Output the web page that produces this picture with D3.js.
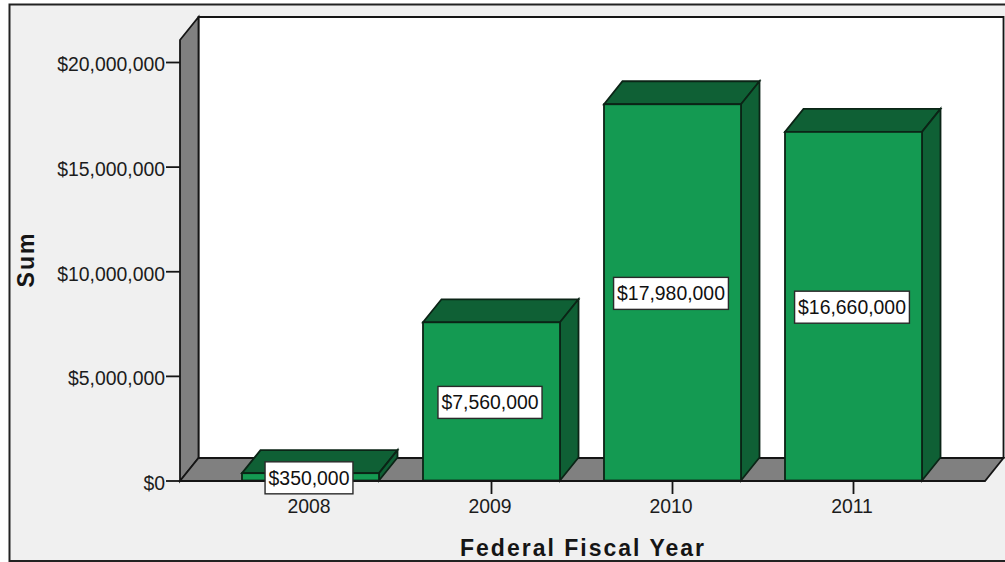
<!DOCTYPE html>
<html><head><meta charset="utf-8">
<script src="https://cdnjs.cloudflare.com/ajax/libs/d3/7.8.5/d3.min.js"></script>
<style>html,body{margin:0;padding:0;background:#fff}svg{display:block;font-family:"Liberation Sans",Arial,sans-serif}</style>
</head><body><svg id="c" width="1005" height="562"></svg>
<script>
const years = ["2008","2009","2010","2011"];
const sums = [350000,7560000,17980000,16660000];
const labels = ["$350,000","$7,560,000","$17,980,000","$16,660,000"];
const yTicks = [0,5000000,10000000,15000000,20000000];

const svg = d3.select("#c");
const x0=180,x1=985,y0=481,wallTop=40,dx=18.5,dy=-23;
const x = d3.scaleBand().domain(years).range([220,944]).paddingInner(.243).paddingOuter(.1215);
const y = d3.scaleLinear().domain([0,20000000]).range([480.5,62]);
const stroke="#151515", barStroke="#0b2416", sw=1.8;
const P = a=>a.map(p=>p.join(",")).join(" ");

svg.append("rect").attr("x",9.5).attr("y",4.5).attr("width",1010).attr("height",556.5)
  .attr("fill","#f0f0f0").attr("stroke","#222").attr("stroke-width",2);

svg.append("polygon").attr("points",P([[x0+dx,wallTop+dy],[x1+dx,wallTop+dy],[x1+dx,y0+dy],[x0+dx,y0+dy]])).attr("fill","#fff").attr("stroke",stroke).attr("stroke-width",sw);
svg.append("polygon").attr("points",P([[x0,wallTop],[x0+dx,wallTop+dy],[x0+dx,y0+dy],[x0,y0]])).attr("fill","#808080").attr("stroke",stroke).attr("stroke-width",sw);
svg.append("polygon").attr("points",P([[x0,y0],[x0+dx,y0+dy],[x1+dx,y0+dy],[x1,y0]])).attr("fill","#808080").attr("stroke",stroke).attr("stroke-width",sw);

// axes
const yAxis = d3.axisLeft(y).tickValues(yTicks).tickSize(14).tickPadding(1).tickFormat(d3.format("$,"));
const ga = svg.append("g").attr("transform",`translate(${x0},0)`).call(yAxis);
ga.select(".domain").remove();
ga.selectAll("line").attr("stroke",stroke).attr("stroke-width",sw);
ga.selectAll("text").attr("fill","#1c1c1c").attr("dy","0.46em").attr("style","font-size:19.4px");
ga.attr("font-family",null);

const xAxis = d3.axisBottom(x).tickSize(13).tickPadding(5);
const gx = svg.append("g").attr("transform",`translate(0,${y0})`).call(xAxis);
gx.select(".domain").remove();
gx.selectAll("line").attr("stroke",stroke).attr("stroke-width",sw);
gx.selectAll("text").attr("fill","#1c1c1c").attr("dx",-1.5).attr("style","font-size:19.4px");
gx.attr("font-family",null);

// bars
const rows = years.map((d,i)=>({year:d,v:sums[i],l:labels[i]}));
const bars = svg.append("g").selectAll("g").data(rows).join("g");
bars.append("polygon").attr("points",d=>{const a=x(d.year),b=a+x.bandwidth(),t=y(d.v);
  return P([[a,t],[a+dx,t+dy],[b+dx,t+dy],[b,t]]);}).attr("fill","#0f6035").attr("stroke",barStroke).attr("stroke-width",sw);
bars.append("polygon").attr("points",d=>{const b=x(d.year)+x.bandwidth(),t=y(d.v);
  return P([[b,t],[b+dx,t+dy],[b+dx,y(0)+dy],[b,y(0)]]);}).attr("fill","#0f6035").attr("stroke",barStroke).attr("stroke-width",sw);
bars.append("rect").attr("x",d=>x(d.year)).attr("y",d=>y(d.v)).attr("width",x.bandwidth()).attr("height",d=>y(0)-y(d.v))
  .attr("fill","#149a52").attr("stroke",barStroke).attr("stroke-width",sw);

// axis baseline on top of the bars
svg.append("line").attr("x1",x0).attr("x2",x1).attr("y1",y0).attr("y2",y0).attr("stroke",stroke).attr("stroke-width",sw);

// value labels
const lab = svg.append("g").selectAll("g").data(rows).join("g")
  .attr("transform",d=>`translate(${x(d.year)+x.bandwidth()/2-1.5},${(y(d.v)+y(0))/2+1})`);
lab.each(function(d){
  const g=d3.select(this);
  const t=g.append("text").text(d.l).attr("text-anchor","middle").attr("dy","0.36em").attr("font-size",19.4).attr("fill","#111");
  const w=t.node().getComputedTextLength();
  g.insert("rect","text").attr("x",-w/2-3.5).attr("y",-16).attr("width",w+7).attr("height",32).attr("fill","#fff").attr("stroke","#2a2a2a").attr("stroke-width",1.4);
});

svg.append("text").text("Federal Fiscal Year").attr("x",583).attr("y",556).attr("text-anchor","middle")
  .attr("font-size",23).attr("font-weight",700).attr("letter-spacing",2).attr("fill","#151515");
svg.append("text").text("Sum").attr("transform","translate(34,259.5) rotate(-90)").attr("text-anchor","middle")
  .attr("font-size",23).attr("font-weight",700).attr("letter-spacing",2).attr("fill","#151515");
</script></body></html>
